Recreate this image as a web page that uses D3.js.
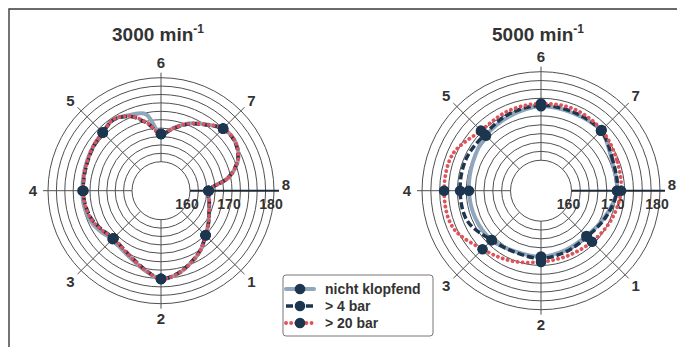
<!DOCTYPE html>
<html><head><meta charset="utf-8">
<script src="https://cdn.jsdelivr.net/npm/d3@7"></script>
<style>
html,body{margin:0;padding:0;background:#fff;}
svg{display:block;font-family:"Liberation Sans",Arial,Helvetica,sans-serif;font-weight:bold;}
</style></head><body>
<svg id="chart" width="677" height="347"></svg>
<script>
// Cylinder order, counter-clockwise starting at 3 o'clock
const cylinders = ["8", "7", "6", "5", "4", "3", "2", "1"];
const radialDomain = [160, 180];
const tickLabels = [160, 170, 180];
const seriesNames = ["nicht klopfend", "> 4 bar", "> 20 bar"];

// 3000 min^-1 : samples every 11.25 deg, starting at cylinder 8
const rpm3000NichtKlopfend = [164.4,169.6,173.0,174.3,174.0,172.1,170.4,168.3,166.6,171.7,172.6,173.5,172.7,172.4,172.1,171.9,171.8,171.8,171.4,170.5,169.4,169.9,170.9,172.5,174.1,173.3,171.7,170.1,168.1,166.7,165.5,164.8];
const rpm3000Bar4 = [164.4,169.5,172.9,174.2,174.0,172.0,170.3,168.2,166.6,169.4,172.2,173.4,172.7,172.3,171.9,171.7,171.6,171.4,170.9,169.9,169.1,169.5,170.6,172.3,174.1,173.2,171.6,170.0,168.1,166.7,165.5,164.8];
const rpm3000Bar20 = [164.4,169.6,173.0,174.3,174.0,172.1,170.4,168.3,166.6,169.5,172.3,173.5,172.7,172.4,172.0,171.8,171.6,171.5,171.0,170.0,169.1,169.6,170.7,172.4,174.1,173.3,171.7,170.1,168.1,166.7,165.5,164.8];

// 5000 min^-1 : samples every 22.5 deg, starting at cylinder 8
const rpm5000NichtKlopfend = [170.3,170.5,172.3,172.1,172.2,171.4,170.7,169.8,169.4,169.2,168.9,168.0,168.0,167.6,167.6,168.7];
const rpm5000Bar4 = [170.3,170.7,172.3,172.3,172.4,171.9,171.1,171.5,171.4,171.1,168.9,168.2,168.4,168.0,167.8,168.9];
const rpm5000Bar20 = [171.2,171.6,172.5,173.0,172.8,172.6,172.3,174.7,175.0,174.7,171.8,170.3,169.2,169.0,169.4,170.3];

const navy = "#1d3650";
const styles = [
  {stroke: "#8fa6bc", width: 4, dash: null, cap: "round"},
  {stroke: navy, width: 3.5, dash: "7 3", cap: "butt"},
  {stroke: "#e0525a", width: 3.8, dash: "0.1 5", cap: "round"}
];

const panels = [
  {title: "3000 min", cx: 161, cy: 190.7, r0: 29, r1: 113,
   series: [rpm3000NichtKlopfend, rpm3000Bar4, rpm3000Bar20]},
  {title: "5000 min", cx: 541, cy: 190.7, r0: 30.5, r1: 119,
   series: [rpm5000NichtKlopfend, rpm5000Bar4, rpm5000Bar20]}
];

const svg = d3.select("#chart");
const ink = "#333";

// frame
svg.append("path")
  .attr("d", "M9,347 V9 H677")
  .attr("fill", "none").attr("stroke", "#3a3a3a").attr("stroke-width", 1.4);

// ccw-from-east degrees -> d3 radial angle (clockwise from north, radians)
const toRad = deg => (90 - deg) * Math.PI / 180;

panels.forEach(p => {
  const g = svg.append("g").attr("transform", `translate(${p.cx},${p.cy})`);
  const r = d3.scaleLinear().domain(radialDomain).range([p.r0, p.r1]);

  // rings
  g.selectAll("circle.ring").data(r.ticks(10)).join("circle")
    .attr("class", "ring").attr("r", d => r(d))
    .attr("fill", "none").attr("stroke", "#505050").attr("stroke-width", 1);

  // spokes
  const spokeEnd = p.r1 + 5;
  g.selectAll("line.spoke").data(cylinders).join("line")
    .attr("class", "spoke")
    .attr("x1", (d, i) => p.r0 * Math.cos(i * Math.PI / 4))
    .attr("y1", (d, i) => -p.r0 * Math.sin(i * Math.PI / 4))
    .attr("x2", (d, i) => spokeEnd * Math.cos(i * Math.PI / 4))
    .attr("y2", (d, i) => -spokeEnd * Math.sin(i * Math.PI / 4))
    .attr("stroke", (d, i) => i === 0 ? "#1e2a36" : "#505050")
    .attr("stroke-width", (d, i) => i === 0 ? 2 : 1);

  // cylinder labels
  const lr = p.r1 + 15;
  g.selectAll("text.cyl").data(cylinders).join("text")
    .attr("class", "cyl")
    .attr("x", (d, i) => lr * Math.cos(i * Math.PI / 4) + (i === 0 ? -3 : 0))
    .attr("y", (d, i) => -lr * Math.sin(i * Math.PI / 4) + (i === 0 ? -6 : 0))
    .attr("text-anchor", "middle").attr("dominant-baseline", "central")
    .attr("font-size", 15).attr("fill", ink).text(d => d);

  // radial tick labels
  g.selectAll("text.tick").data(tickLabels).join("text")
    .attr("class", "tick")
    .attr("x", d => r(d) - 3).attr("y", 13)
    .attr("text-anchor", "middle").attr("dominant-baseline", "central")
    .attr("font-size", 14).attr("fill", ink).text(d => d);

  // series lines
  p.series.forEach((vals, si) => {
    const step = 360 / vals.length;
    const line = d3.lineRadial()
      .angle((d, i) => toRad(i * step))
      .radius(d => r(d))
      .curve(d3.curveCatmullRomClosed.alpha(0.5));
    const st = styles[si];
    g.append("path").datum(vals).attr("d", line)
      .attr("fill", "none").attr("stroke", st.stroke)
      .attr("stroke-width", st.width).attr("stroke-dasharray", st.dash)
      .attr("stroke-linecap", st.cap).attr("stroke-linejoin", "round");
  });

  // markers at cylinder positions
  p.series.forEach(vals => {
    const per = vals.length / cylinders.length;
    const pts = cylinders.map((c, k) => ({a: k * 45, v: vals[k * per]}));
    g.selectAll(null).data(pts).join("circle")
      .attr("cx", d => r(d.v) * Math.cos(d.a * Math.PI / 180))
      .attr("cy", d => -r(d.v) * Math.sin(d.a * Math.PI / 180))
      .attr("r", 5.3).attr("fill", navy);
  });

  // title with superscript
  const t = svg.append("text")
    .attr("x", p.cx - 3).attr("y", 41)
    .attr("text-anchor", "middle").attr("font-size", 19).attr("fill", ink);
  t.append("tspan").text(p.title);
  t.append("tspan").attr("dy", -8).attr("font-size", 12).text("-1");
});

// legend
const lg = svg.append("g").attr("transform", "translate(283,275)");
lg.append("rect").attr("width", 150).attr("height", 61).attr("rx", 3)
  .attr("fill", "#fff").attr("stroke", "#777").attr("stroke-width", 1);
seriesNames.forEach((name, i) => {
  const y = 14 + i * 17;
  const st = styles[i];
  lg.append("line").attr("x1", 3).attr("x2", 31).attr("y1", y).attr("y2", y)
    .attr("stroke", st.stroke).attr("stroke-width", st.width)
    .attr("stroke-dasharray", i === 1 ? "7 3" : st.dash).attr("stroke-linecap", st.cap);
  lg.append("circle").attr("cx", 17).attr("cy", y).attr("r", 5.3).attr("fill", navy);
  lg.append("text").attr("x", 42).attr("y", y).attr("dominant-baseline", "central")
    .attr("font-size", 14).attr("fill", ink).text(name);
});
</script>
</body></html>
